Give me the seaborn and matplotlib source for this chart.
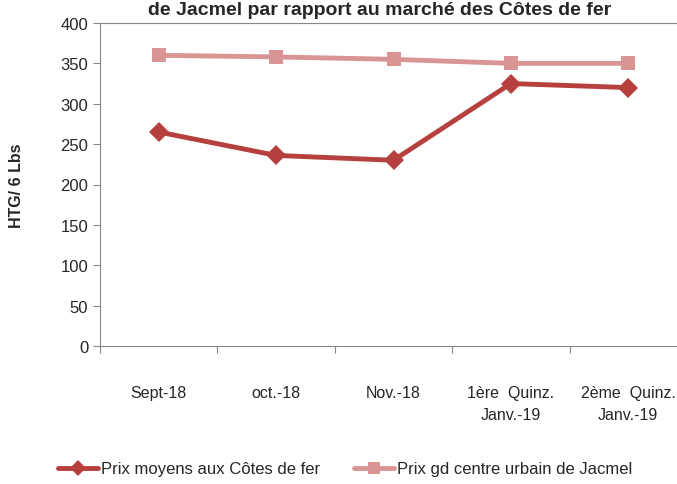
import numpy as np
import pandas as pd
import matplotlib.pyplot as plt
import seaborn as sns
from matplotlib.lines import Line2D

categories = ['Sept-18', 'oct.-18', 'Nov.-18', '1ère  Quinz.\nJanv.-19', '2ème  Quinz.\nJanv.-19']
cotes_de_fer = [265, 236, 230, 325, 320]
jacmel = [360, 358, 355, 350, 350]
series_names = ['Prix moyens aux Côtes de fer', 'Prix gd centre urbain de Jacmel']

sns.set_style('white')
plt.rcParams['font.family'] = ['Liberation Sans', 'DejaVu Sans']

df = pd.DataFrame({'x': list(range(len(categories))) * 2,
                   'val': cotes_de_fer + jacmel,
                   'serie': [series_names[0]] * 5 + [series_names[1]] * 5})

fig = plt.figure(figsize=(6.77, 4.85), dpi=100)
ax = fig.add_axes([100 / 677, 1 - 347 / 485, 587 / 677, 323 / 485])

# light series drawn first, dark on top
order = [series_names[1], series_names[0]]
sns.lineplot(data=df, x='x', y='val', hue='serie', style='serie',
             palette=['#D99593', '#B5403E'], markers=['s', 'D'], dashes=False,
             linewidth=3.5, markersize=10, markeredgewidth=0, ax=ax,
             hue_order=order, style_order=order, legend=False)

ax.set_xlim(-0.5, len(categories) - 0.5)
ax.set_ylim(0, 400)
ax.set_yticks(range(0, 401, 50))
ax.set_xticks(range(len(categories)))
ax.set_xticklabels(categories, fontsize=11.5, linespacing=1.6)
ax.tick_params(axis='y', labelsize=12, length=5, width=0.8, color='#888888', direction='out', left=True)
ax.tick_params(axis='x', length=0, pad=28)
ax.set_xticks(np.arange(-0.5, len(categories), 1), minor=True)
ax.tick_params(axis='x', which='minor', length=5, width=0.8, color='#888888', direction='out', bottom=True)

for s in ['top', 'right']:
    ax.spines[s].set_visible(False)
for s in ['left', 'bottom']:
    ax.spines[s].set_color('#888888')
    ax.spines[s].set_linewidth(0.8)
ax.axhline(400, color='#888888', linewidth=0.8, clip_on=False)

ax.set_xlabel('')
ax.set_ylabel('HTG/ 6 Lbs', fontsize=11.5, fontweight='bold', labelpad=26)

fig.text(380 / 677, 1 - 15 / 485, 'de Jacmel par rapport au marché des Côtes de fer',
         ha='center', va='baseline', fontsize=14, fontweight='bold')

handles = [Line2D([], [], color='#B5403E', marker='D', lw=3.5, markersize=8, markeredgewidth=0),
           Line2D([], [], color='#D99593', marker='s', lw=3.5, markersize=9, markeredgewidth=0)]
fig.legend(handles, series_names, loc='center', bbox_to_anchor=(345 / 677, 1 - 470 / 485), ncol=2,
           frameon=False, fontsize=12, handlelength=2.4, handletextpad=0.2, columnspacing=2.0)

fig.savefig('out.png', dpi=100)
